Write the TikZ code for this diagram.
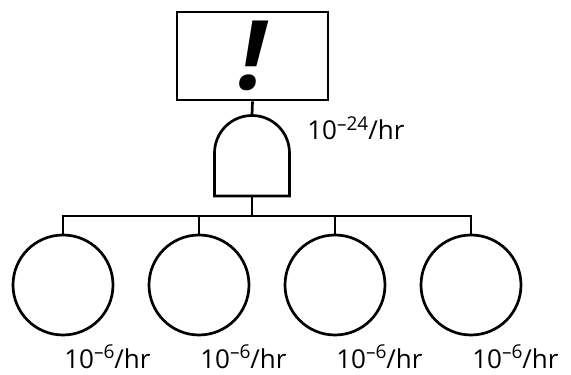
\documentclass[tikz,border=0pt]{standalone}
\usepackage{fontspec}
\setmainfont{Open Sans}
\usepackage{tikz}

\newcommand{\rate}[1]{10\raisebox{0.38em}{\fontsize{19}{19}\selectfont\textendash#1}/hr}

\begin{document}
\begin{tikzpicture}[x=1pt, y=1pt, line width=2.7pt,
    event/.style={draw, circle, minimum size=100pt, inner sep=0pt},
    ratelabel/.style={anchor=base west, inner sep=0pt, font=\fontsize{26}{26}\selectfont}]
  \useasboundingbox (0, 0) rectangle (571, 375);

  % Top event.
  \node [draw, minimum width=151pt, minimum height=88pt, inner sep=0pt] (top) at (252.5, 319)
    {\fontsize{96}{96}\selectfont\bfseries\itshape !};

  % AND gate.
  \coordinate (gatetop) at (252, 259.5);
  \coordinate (gatebot) at (252, 179);
  \draw (214.5, 179) -- (214.5, 222) arc [start angle=180, end angle=0, radius=37.5]
    -- (289.5, 179) -- cycle;
  \draw (top.south) -- (gatetop);
  \node [ratelabel] (toprate) at (306, 235) {\rate{24}};

  % Basic events.
  \foreach \i/\x in {1/63, 2/199, 3/335, 4/471} {
    \node [event] (e\i) at (\x, 90) {};
    \node [ratelabel] (r\i) at (\x, 6.5) {\rate{6}};
  }

  % Bus.
  \coordinate (bus) at (252, 159);
  \draw (gatebot) -- (bus);
  \draw (e1.north) |- (bus) -| (e4.north);
  \draw (e2.north) -- (e2.north |- bus);
  \draw (e3.north) -- (e3.north |- bus);
\end{tikzpicture}
\end{document}
